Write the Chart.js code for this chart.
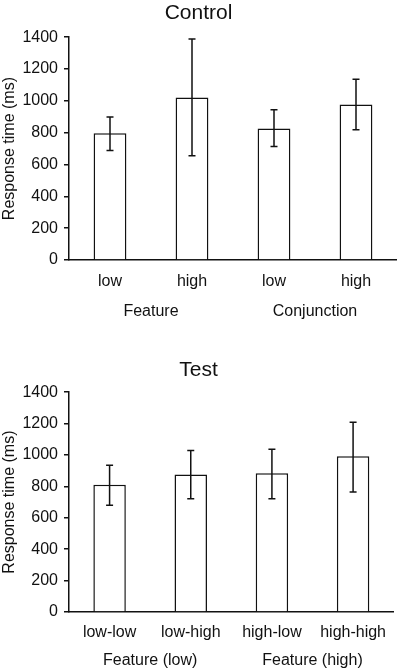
<!DOCTYPE html>
<html lang="en">
<head>
    <meta charset="UTF-8">
    <title>Response time - Control and Test</title>
    <script src="https://cdn.jsdelivr.net/npm/chart.js"></script>
    <style>
        body { margin: 0; background: #fff; }
        canvas { position: absolute; left: 0; }
        #controlChart { top: 0; }
        #testChart { top: 330px; }
    </style>
</head>
<body>
    <canvas id="controlChart" width="397" height="330"></canvas>
    <canvas id="testChart" width="397" height="342"></canvas>

    <script>
        // data (ms)
        const yMin = 0, yMax = 1400, yStep = 200;

        const controlLabels = ['low', 'high', 'low', 'high'];
        const controlGroups = ['Feature', 'Conjunction'];
        const controlMeans = [797, 1021, 826, 977];
        const controlErrLow = [688, 655, 713, 818];
        const controlErrHigh = [898, 1389, 944, 1136];

        const testLabels = ['low-low', 'low-high', 'high-low', 'high-high'];
        const testGroups = ['Feature (low)', 'Feature (high)'];
        const testMeans = [810, 876, 883, 992];
        const testErrLow = [680, 722, 722, 765];
        const testErrHigh = [934, 1028, 1036, 1209];

        Chart.defaults.font.family = "'Liberation Sans', Arial, sans-serif";
        Chart.defaults.color = '#111';

        // draws the error bars from the low/high arrays using the chart's scales
        const errorBars = {
            id: 'errorBars',
            afterDatasetsDraw(chart, args, opts) {
                const ctx = chart.ctx;
                const y = chart.scales.y;
                const bars = chart.getDatasetMeta(0).data;
                ctx.save();
                ctx.strokeStyle = '#111';
                ctx.lineWidth = 1.5;
                bars.forEach((bar, i) => {
                    const yLo = y.getPixelForValue(opts.low[i]);
                    const yHi = y.getPixelForValue(opts.high[i]);
                    ctx.beginPath();
                    ctx.moveTo(bar.x, yLo); ctx.lineTo(bar.x, yHi);
                    ctx.moveTo(bar.x - 3.5, yLo); ctx.lineTo(bar.x + 3.5, yLo);
                    ctx.moveTo(bar.x - 3.5, yHi); ctx.lineTo(bar.x + 3.5, yHi);
                    ctx.stroke();
                });
                ctx.restore();
            }
        };

        function makeChart(id, title, labels, groups, means, lo, hi, lay) {
            const ctx = document.getElementById(id).getContext('2d');
            return new Chart(ctx, {
                type: 'bar',
                data: {
                    labels: labels,
                    datasets: [{
                        data: means,
                        backgroundColor: '#fff',
                        borderColor: '#111',
                        borderWidth: 1.5,
                        barPercentage: 0.4,
                        categoryPercentage: 1.0
                    }]
                },
                options: {
                    responsive: false,
                    animation: false,
                    devicePixelRatio: 1,
                    layout: { padding: { left: 0, right: 0, top: 0, bottom: lay.bottom } },
                    plugins: {
                        legend: { display: false },
                        tooltip: { enabled: false },
                        title: {
                            display: true,
                            text: title,
                            color: '#111',
                            font: { size: 21, weight: 'normal' },
                            padding: { top: lay.titleTop, bottom: lay.titleBottom }
                        },
                        errorBars: { low: lo, high: hi }
                    },
                    scales: {
                        x: {
                            weight: 0,
                            grid: { display: false, drawTicks: false },
                            border: { display: true, color: '#111', width: 1.5 },
                            ticks: { font: { size: 16 }, color: '#111', padding: lay.xPad },
                            afterFit(s) { s.height = 30; }
                        },
                        x2: {
                            type: 'category',
                            labels: groups,
                            offset: true,
                            position: 'bottom',
                            weight: 1,
                            grid: { display: false, drawTicks: false },
                            border: { display: false },
                            ticks: { font: { size: 16 }, color: '#111', padding: lay.x2Pad },
                            afterFit(s) { s.height = lay.x2Height; }
                        },
                        y: {
                            min: yMin,
                            max: yMax,
                            grid: { drawOnChartArea: false, drawTicks: true, tickLength: 5, color: '#111', lineWidth: 1.5 },
                            border: { display: true, color: '#111', width: 1.5 },
                            ticks: {
                                stepSize: yStep,
                                font: { size: 16 },
                                color: '#111',
                                padding: 6,
                                callback: v => String(v)
                            },
                            title: {
                                display: true,
                                text: 'Response time (ms)',
                                color: '#111',
                                font: { size: 16 },
                                padding: { top: 0, bottom: 0 }
                            },
                            afterFit(s) { s.width = 69; }
                        }
                    }
                },
                plugins: [errorBars]
            });
        }

        makeChart('controlChart', 'Control', controlLabels, controlGroups,
            controlMeans, controlErrLow, controlErrHigh,
            { titleTop: 1, titleBottom: 11, bottom: 6, xPad: 12, x2Pad: 12, x2Height: 34 });

        makeChart('testChart', 'Test', testLabels, testGroups,
            testMeans, testErrLow, testErrHigh,
            { titleTop: 28, titleBottom: 9, bottom: 0, xPad: 11, x2Pad: 9, x2Height: 30 });
    </script>
</body>
</html>
